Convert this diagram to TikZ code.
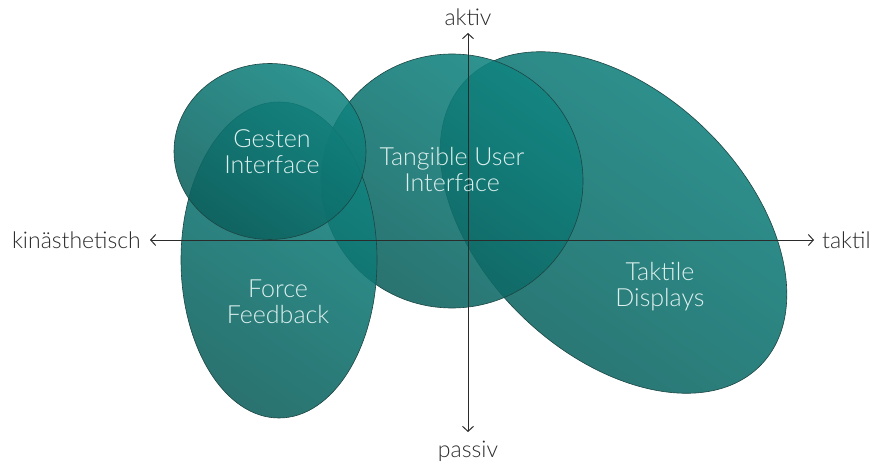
\documentclass[tikz,border=0pt]{standalone}
\usepackage{fontspec}
\setmainfont{Lato}[UprightFont={* Light}]
\usepackage{xcolor}
\usetikzlibrary{positioning,arrows.meta}
\definecolor{ctop}{HTML}{118581}
\definecolor{cmid}{HTML}{2E918D}
\definecolor{cbot}{HTML}{0C605D}
\definecolor{cedge}{HTML}{1C4644}
\definecolor{ctext}{HTML}{DDF0EE}
\definecolor{caxis}{HTML}{2B2B2B}

\tikzset{
  blob/.style={draw=cedge, line width=0.6pt, top color=ctop, middle color=cmid,
    bottom color=cbot, shading angle=-35, fill opacity=0.88},
  blobtext/.style={text=ctext, align=center, font=\fontsize{25}{26}\selectfont},
  axislabel/.style={text=caxis, font=\fontsize{23}{24}\selectfont, inner sep=0pt}
}

\begin{document}
\begin{tikzpicture}[x=1pt,y=1pt]
    \useasboundingbox (0,0) rectangle (872,461);

    % Bereiche
    \shade[blob, rotate around={-44:(613.5,238.5)}] (613.5,238.5) ellipse [x radius=205, y radius=131];
    \shade[blob] (452,280) ellipse [x radius=131, y radius=127];
    \shade[blob] (279,201) ellipse [x radius=98, y radius=158];
    \shade[blob] (270,309.5) ellipse [x radius=96, y radius=88];

    % Achsen
    \coordinate (west) at (150,221);
    \coordinate (east) at (814,221);
    \coordinate (north) at (468,428);
    \coordinate (south) at (468,29);
    \draw[caxis, line width=1pt, {Straight Barb[length=5pt,width=11pt]}-{Straight Barb[length=5pt,width=11pt]}] (west) -- (east);
    \draw[caxis, line width=1pt, {Straight Barb[length=5pt,width=11pt]}-{Straight Barb[length=5pt,width=11pt]}] (south) -- (north);
    \node[axislabel, left=9pt of west] (kin) {kinästhetisch};
    \node[axislabel, right=8pt of east] (taktil) {taktil};
    \node[axislabel, above=7pt of north] (aktiv) {aktiv};
    \node[axislabel, below=9pt of south] (passiv) {passiv};

    % Beschriftungen
    \node[blobtext] (gesten) at (272,309) {Gesten\\Interface};
    \node[blobtext] (tui) at (452,291) {Tangible User\\Interface};
    \node[blobtext] (force) at (278,159) {Force\\Feedback};
    \node[blobtext] (displays) at (660,174) {Taktile\\Displays};
\end{tikzpicture}
\end{document}
